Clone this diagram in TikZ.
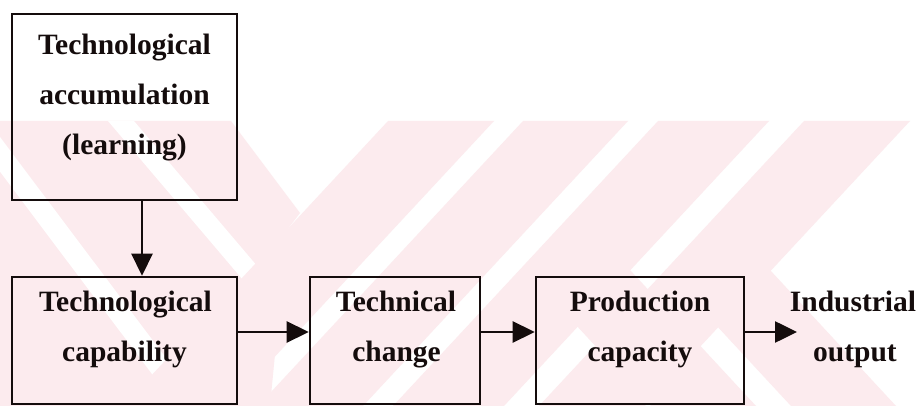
\documentclass[tikz,border=0pt]{standalone}
\usepackage{fontspec}
\setmainfont{Liberation Serif}
\usetikzlibrary{arrows.meta,calc}
\definecolor{wm}{RGB}{252,235,238}
\definecolor{ink}{RGB}{20,12,12}
\begin{document}
\begin{tikzpicture}[x=1pt,y=-1pt,
  box/.style={draw=ink,line width=2.6pt,inner sep=0pt},
  lbl/.style={font=\bfseries\fontsize{29.5}{29.5}\selectfont,text=ink,anchor=base,inner sep=0pt},
  arr/.style={draw=ink,line width=2.6pt,-{Triangle[length=22pt,width=21pt]}},
  wmfill/.style={fill=wm,draw=none}]
\useasboundingbox (0,0) rectangle (916,406);
\fill[white] (0,0) rectangle (916,406);
% watermark
\begin{scope}
  \clip (0,121) rectangle (916,406);
  \fill[wmfill] (-40,121) -- (231,121) -- (300,213) -- (287,230) -- (270,406) -- (-40,406) -- cycle;
  \fill[white] (-38,121) -- (-12,121) -- (202,406) -- (176,406) -- cycle;
  \fill[white] (108,121) -- (134,121) -- (376,406) -- (350,406) -- cycle;
  \foreach \a/\b in {388/494,523/628,658/769,804/910}
    \fill[wmfill] (\a,121) -- (\b,121) -- (\b-265,406) -- (\a-265,406) -- cycle;
  \fill[wmfill] (665,270) -- (770,270) -- (896,406) -- (791,406) -- cycle;
  \fill[wmfill] (525,270) -- (630,270) -- (756,406) -- (651,406) -- cycle;
\end{scope}
% boxes
\node[box,minimum width=225pt,minimum height=186pt] (acc) at (124.5,107) {};
\node[box,minimum width=225pt,minimum height=127pt] (cap) at (124.5,340.5) {};
\node[box,minimum width=170pt,minimum height=127pt] (tech) at (395,340.5) {};
\node[box,minimum width=208pt,minimum height=127pt] (prod) at (640,340.5) {};
% labels
\node[lbl] (accT) at (124.5,55) {Technological};
\node[lbl] (accA) at (124.5,105) {accumulation};
\node[lbl] (accL) at (124.5,155) {(learning)};
\node[lbl] (capT) at (125.5,311) {Technological};
\node[lbl] (capC) at (124.5,361) {capability};
\node[lbl] (techT) at (396,311) {Technical};
\node[lbl] (techC) at (396.5,361) {change};
\node[lbl] (prodP) at (640,311) {Production};
\node[lbl] (prodC) at (640,361) {capacity};
\node[lbl] (outI) at (853,311) {Industrial};
\node[lbl] (outO) at (855,361) {output};
\coordinate (outin) at (797,332);
% connectors
\draw[arr] ($(acc.south)+(17.5,0)$) -- ($(cap.north)+(17.5,0)$);
\draw[arr] ($(cap.east)+(0,-8.5)$) -- ($(tech.west)+(0,-8.5)$);
\draw[arr] ($(tech.east)+(0,-8.5)$) -- ($(prod.west)+(0,-8.5)$);
\draw[arr] ($(prod.east)+(0,-8.5)$) -- (outin);
\end{tikzpicture}
\end{document}
